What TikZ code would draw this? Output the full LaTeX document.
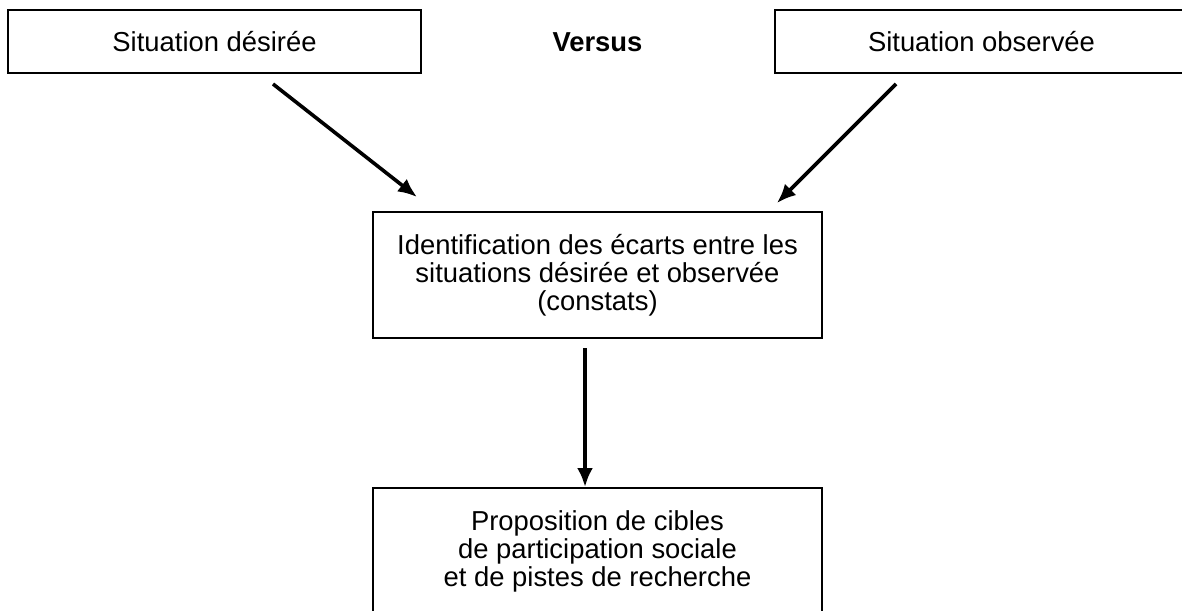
\documentclass[tikz,border=0pt]{standalone}
\usepackage{fontspec}
\setmainfont{Liberation Sans}
\usetikzlibrary{arrows.meta}

\tikzset{
  situation/.style={draw,line width=1pt,minimum width=206.5pt,minimum height=31.5pt,
    inner sep=0pt,font=\fontsize{13.7}{14}\selectfont},
  etape/.style={draw,line width=1pt,minimum width=224.5pt,minimum height=63pt,
    inner sep=0pt,align=center,font=\fontsize{13.7}{14}\selectfont},
  fleche/.style={-{Latex[length=9.5pt,width=8pt]},line width=1.8pt}
}

\begin{document}
\begin{tikzpicture}[x=0.5pt,y=-0.5pt,line cap=butt,line join=miter]
        \useasboundingbox (0,0) rectangle (1182,610);

        % Situations comparees
        \node[situation] (desiree) at (214.5,41.5) {Situation désirée};
        \node[situation] (observee) at (981.5,41.5) {Situation observée};
        \node[font=\fontsize{13.7}{14}\selectfont\bfseries] (versus) at (597.5,42) {Versus};

        % Ecarts
        \node[etape] (ecarts) at (597.5,275)
            {Identification des écarts entre les\\situations désirée et observée\\(constats)};

        % Propositions
        \node[etape] (cibles) at (597.5,551)
            {Proposition de cibles\\de participation sociale\\et de pistes de recherche};

        % Fleches
        \coordinate (dDepart) at (273,84);
        \coordinate (dArrivee) at (417,197);
        \coordinate (oDepart) at (896,84);
        \coordinate (oArrivee) at (777,203);
        \coordinate (eDepart) at (585,348);
        \draw[fleche] (dDepart) -- (dArrivee);
        \draw[fleche] (oDepart) -- (oArrivee);
        \draw[fleche] (eDepart) -- (eDepart |- cibles.north);
\end{tikzpicture}
\end{document}
